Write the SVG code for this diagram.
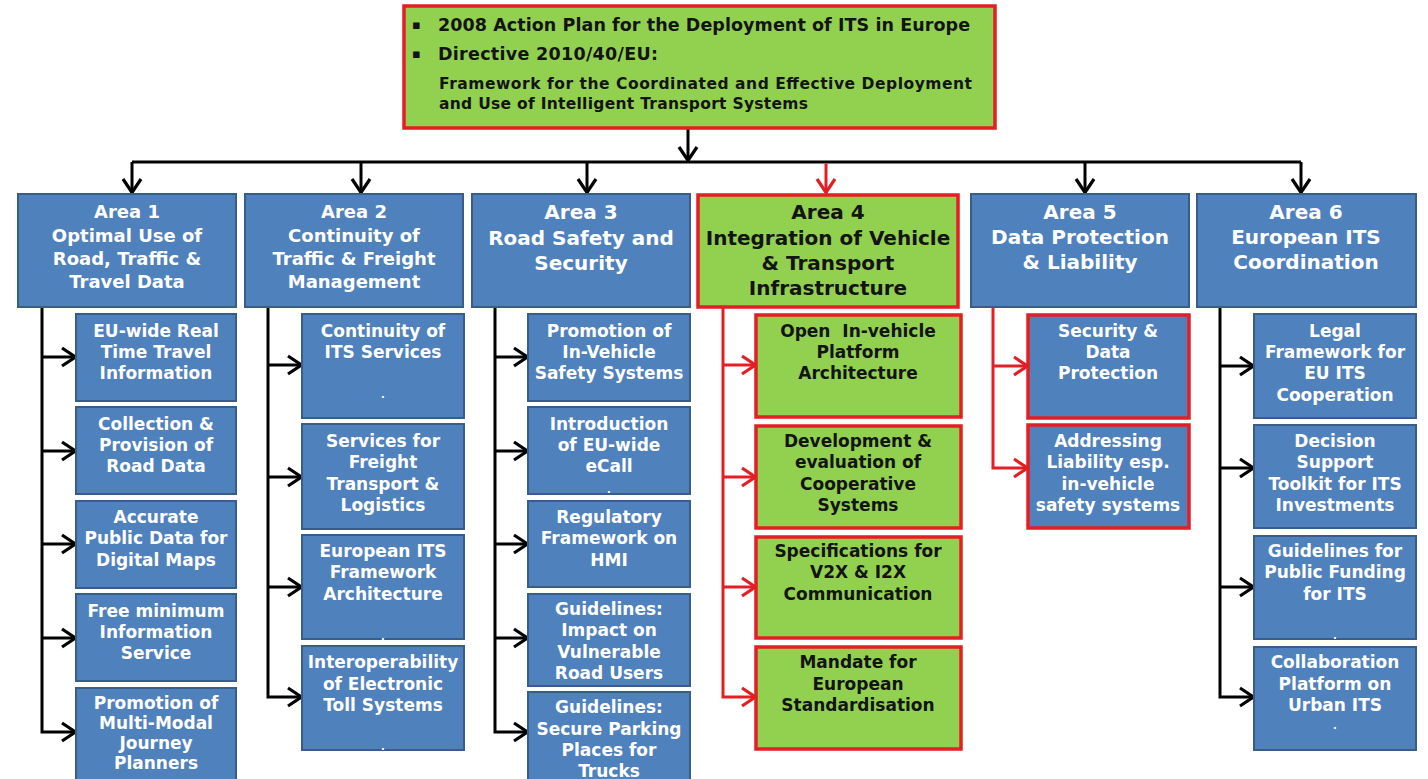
<svg xmlns="http://www.w3.org/2000/svg" width="1428" height="779" viewBox="0 0 1428 779">
<defs>
<style>
.blue{fill:#4F81BD;stroke:#385D8A;stroke-width:2}
.green{fill:#92D050;stroke:#E31E24;stroke-width:3.5}
.bluered{fill:#4F81BD;stroke:#E31E24;stroke-width:3.5}
text{font-family:"DejaVu Sans","Liberation Sans",sans-serif;font-weight:bold}
.c{text-anchor:middle}
.w{fill:#FFFFFF}
.k{fill:#141414}
.h18{font-size:18px}
.h20{font-size:20px}
.s{font-size:17px}
.dot{font-size:10px}
.lk{fill:none;stroke:#000;stroke-width:3}
.lr{fill:none;stroke:#E31E24;stroke-width:3}
</style>
<marker id="ak" markerUnits="userSpaceOnUse" markerWidth="18" markerHeight="22" viewBox="0 0 18 22" refX="16" refY="11" orient="auto">
<path d="M2,2 L15.5,11 L2,20" fill="none" stroke="#000" stroke-width="3.2"/>
</marker>
<marker id="ar" markerUnits="userSpaceOnUse" markerWidth="18" markerHeight="22" viewBox="0 0 18 22" refX="16" refY="11" orient="auto">
<path d="M2,2 L15.5,11 L2,20" fill="none" stroke="#E31E24" stroke-width="3.2"/>
</marker>
</defs>
<rect width="1428" height="779" fill="#FFFFFF"/>

<g id="connectors">
<line class="lk" x1="688" y1="128" x2="688" y2="161" marker-end="url(#ak)"/>
<line class="lk" x1="132" y1="162" x2="1301" y2="162"/>
<line class="lk" x1="132" y1="162" x2="132" y2="193" marker-end="url(#ak)"/>
<line class="lk" x1="361" y1="162" x2="361" y2="193" marker-end="url(#ak)"/>
<line class="lk" x1="587" y1="162" x2="587" y2="193" marker-end="url(#ak)"/>
<line class="lr" x1="826" y1="163.5" x2="826" y2="193" marker-end="url(#ar)"/>
<line class="lk" x1="1085" y1="162" x2="1085" y2="193" marker-end="url(#ak)"/>
<line class="lk" x1="1301" y1="162" x2="1301" y2="193" marker-end="url(#ak)"/>

<path class="lk" d="M42,307 V732 H76" marker-end="url(#ak)"/>
<line class="lk" x1="42" y1="357" x2="76" y2="357" marker-end="url(#ak)"/>
<line class="lk" x1="42" y1="451" x2="76" y2="451" marker-end="url(#ak)"/>
<line class="lk" x1="42" y1="544" x2="76" y2="544" marker-end="url(#ak)"/>
<line class="lk" x1="42" y1="638" x2="76" y2="638" marker-end="url(#ak)"/>

<path class="lk" d="M268,307 V697 H302" marker-end="url(#ak)"/>
<line class="lk" x1="268" y1="365" x2="302" y2="365" marker-end="url(#ak)"/>
<line class="lk" x1="268" y1="477" x2="302" y2="477" marker-end="url(#ak)"/>
<line class="lk" x1="268" y1="587" x2="302" y2="587" marker-end="url(#ak)"/>

<path class="lk" d="M495,307 V732 H528" marker-end="url(#ak)"/>
<line class="lk" x1="495" y1="357" x2="528" y2="357" marker-end="url(#ak)"/>
<line class="lk" x1="495" y1="451" x2="528" y2="451" marker-end="url(#ak)"/>
<line class="lk" x1="495" y1="544" x2="528" y2="544" marker-end="url(#ak)"/>
<line class="lk" x1="495" y1="638" x2="528" y2="638" marker-end="url(#ak)"/>

<path class="lr" d="M723,307 V697 H756" marker-end="url(#ar)"/>
<line class="lr" x1="723" y1="365" x2="756" y2="365" marker-end="url(#ar)"/>
<line class="lr" x1="723" y1="477" x2="756" y2="477" marker-end="url(#ar)"/>
<line class="lr" x1="723" y1="587" x2="756" y2="587" marker-end="url(#ar)"/>

<path class="lr" d="M993,307 V468 H1028" marker-end="url(#ar)"/>
<line class="lr" x1="993" y1="366" x2="1028" y2="366" marker-end="url(#ar)"/>

<path class="lk" d="M1220,307 V697 H1254" marker-end="url(#ak)"/>
<line class="lk" x1="1220" y1="366" x2="1254" y2="366" marker-end="url(#ak)"/>
<line class="lk" x1="1220" y1="468" x2="1254" y2="468" marker-end="url(#ak)"/>
<line class="lk" x1="1220" y1="587" x2="1254" y2="587" marker-end="url(#ak)"/>
</g>

<g id="root">
<rect class="green" x="404" y="6" width="591" height="122"/>
<text class="k" x="412" y="29" font-size="13">▪</text>
<text class="k" x="438" y="31" font-size="17.5" textLength="532">2008 Action Plan for the Deployment of ITS in Europe</text>
<text class="k" x="412" y="58" font-size="13">▪</text>
<text class="k" x="438" y="60" font-size="17.5" textLength="220">Directive 2010/40/EU:</text>
<text class="k" x="439" y="89" font-size="15.5" textLength="533">Framework for the Coordinated and Effective Deployment</text>
<text class="k" x="439" y="109" font-size="15.5" textLength="369">and Use of Intelligent Transport Systems</text>
</g>

<g id="area1">
<rect class="blue" x="18" y="194" width="218" height="113"/>
<text class="c w h18" x="127"><tspan x="127" y="218">Area 1</tspan><tspan x="127" y="242">Optimal Use of</tspan><tspan x="127" y="265">Road, Traffic &amp;</tspan><tspan x="127" y="288">Travel Data</tspan></text>
</g>
<g id="area2">
<rect class="blue" x="245" y="194" width="218" height="113"/>
<text class="c w h18" x="354"><tspan x="354" y="218">Area 2</tspan><tspan x="354" y="242">Continuity of</tspan><tspan x="354" y="265">Traffic &amp; Freight</tspan><tspan x="354" y="288">Management</tspan></text>
</g>
<g id="area3">
<rect class="blue" x="472" y="194" width="218" height="113"/>
<text class="c w h20" x="581"><tspan x="581" y="219">Area 3</tspan><tspan x="581" y="245">Road Safety and</tspan><tspan x="581" y="270">Security</tspan></text>
</g>
<g id="area4">
<rect class="green" x="698" y="195" width="260" height="112"/>
<text class="c k h20" x="828"><tspan x="828" y="219">Area 4</tspan><tspan x="828" y="245">Integration of Vehicle</tspan><tspan x="828" y="270">&amp; Transport</tspan><tspan x="828" y="295">Infrastructure</tspan></text>
</g>
<g id="area5">
<rect class="blue" x="971" y="194" width="218" height="113"/>
<text class="c w h20" x="1080"><tspan x="1080" y="219">Area 5</tspan><tspan x="1080" y="244">Data Protection</tspan><tspan x="1080" y="269">&amp; Liability</tspan></text>
</g>
<g id="area6">
<rect class="blue" x="1197" y="194" width="219" height="113"/>
<text class="c w h20" x="1306"><tspan x="1306" y="219">Area 6</tspan><tspan x="1306" y="244">European ITS</tspan><tspan x="1306" y="269">Coordination</tspan></text>
</g>

<g id="a1-1"><rect class="blue" x="76" y="314" width="160" height="87"/>
<text class="c w s"><tspan x="156" y="337">EU-wide Real</tspan><tspan x="156" y="358">Time Travel</tspan><tspan x="156" y="379">Information</tspan></text></g>
<g id="a1-2"><rect class="blue" x="76" y="407" width="160" height="87"/>
<text class="c w s"><tspan x="156" y="430">Collection &amp;</tspan><tspan x="156" y="451">Provision of</tspan><tspan x="156" y="472">Road Data</tspan></text></g>
<g id="a1-3"><rect class="blue" x="76" y="501" width="160" height="87"/>
<text class="c w s"><tspan x="156" y="523">Accurate</tspan><tspan x="156" y="544">Public Data for</tspan><tspan x="156" y="566">Digital Maps</tspan></text></g>
<g id="a1-4"><rect class="blue" x="76" y="594" width="160" height="87"/>
<text class="c w s"><tspan x="156" y="617">Free minimum</tspan><tspan x="156" y="638">Information</tspan><tspan x="156" y="659">Service</tspan></text></g>
<g id="a1-5"><rect class="blue" x="76" y="688" width="160" height="100"/>
<text class="c w s"><tspan x="156" y="709">Promotion of</tspan><tspan x="156" y="729">Multi-Modal</tspan><tspan x="156" y="749">Journey</tspan><tspan x="156" y="769">Planners</tspan></text></g>

<g id="a2-1"><rect class="blue" x="302" y="314" width="162" height="104"/>
<text class="c w s"><tspan x="383" y="337">Continuity of</tspan><tspan x="383" y="358">ITS Services</tspan></text>
<text class="c w dot" x="383" y="398">.</text></g>
<g id="a2-2"><rect class="blue" x="302" y="424" width="162" height="105"/>
<text class="c w s"><tspan x="383" y="447">Services for</tspan><tspan x="383" y="468">Freight</tspan><tspan x="383" y="490">Transport &amp;</tspan><tspan x="383" y="511">Logistics</tspan></text></g>
<g id="a2-3"><rect class="blue" x="302" y="535" width="162" height="104"/>
<text class="c w s"><tspan x="383" y="557">European ITS</tspan><tspan x="383" y="578">Framework</tspan><tspan x="383" y="600">Architecture</tspan></text>
<text class="c w dot" x="383" y="640">.</text></g>
<g id="a2-4"><rect class="blue" x="302" y="646" width="162" height="104"/>
<text class="c w s"><tspan x="383" y="668">Interoperability</tspan><tspan x="383" y="690">of Electronic</tspan><tspan x="383" y="711">Toll Systems</tspan></text>
<text class="c w dot" x="383" y="750">.</text></g>

<g id="a3-1"><rect class="blue" x="528" y="314" width="162" height="87"/>
<text class="c w s"><tspan x="609" y="337">Promotion of</tspan><tspan x="609" y="358">In-Vehicle</tspan><tspan x="609" y="379">Safety Systems</tspan></text></g>
<g id="a3-2"><rect class="blue" x="528" y="407" width="162" height="87"/>
<text class="c w s"><tspan x="609" y="430">Introduction</tspan><tspan x="609" y="451">of EU-wide</tspan><tspan x="609" y="472">eCall</tspan></text>
<text class="c w dot" x="609" y="493">.</text></g>
<g id="a3-3"><rect class="blue" x="528" y="501" width="162" height="86"/>
<text class="c w s"><tspan x="609" y="523">Regulatory</tspan><tspan x="609" y="544">Framework on</tspan><tspan x="609" y="566">HMI</tspan></text></g>
<g id="a3-4"><rect class="blue" x="528" y="594" width="162" height="92"/>
<text class="c w s"><tspan x="609" y="615">Guidelines:</tspan><tspan x="609" y="636">Impact on</tspan><tspan x="609" y="658">Vulnerable</tspan><tspan x="609" y="679">Road Users</tspan></text></g>
<g id="a3-5"><rect class="blue" x="528" y="692" width="162" height="96"/>
<text class="c w s"><tspan x="609" y="713">Guidelines:</tspan><tspan x="609" y="735">Secure Parking</tspan><tspan x="609" y="756">Places for</tspan><tspan x="609" y="777">Trucks</tspan></text></g>

<g id="a4-1"><rect class="green" x="756" y="315" width="205" height="102"/>
<text class="c k s"><tspan x="858" y="337" xml:space="preserve">Open  In-vehicle</tspan><tspan x="858" y="358">Platform</tspan><tspan x="858" y="379">Architecture</tspan></text></g>
<g id="a4-2"><rect class="green" x="756" y="426" width="205" height="102"/>
<text class="c k s"><tspan x="858" y="447">Development &amp;</tspan><tspan x="858" y="468">evaluation of</tspan><tspan x="858" y="490">Cooperative</tspan><tspan x="858" y="511">Systems</tspan></text></g>
<g id="a4-3"><rect class="green" x="756" y="537" width="205" height="101"/>
<text class="c k s"><tspan x="858" y="557">Specifications for</tspan><tspan x="858" y="578">V2X &amp; I2X</tspan><tspan x="858" y="600">Communication</tspan></text></g>
<g id="a4-4"><rect class="green" x="756" y="647" width="205" height="102"/>
<text class="c k s"><tspan x="858" y="668">Mandate for</tspan><tspan x="858" y="690">European</tspan><tspan x="858" y="711">Standardisation</tspan></text></g>

<g id="a5-1"><rect class="bluered" x="1028" y="315" width="161" height="103"/>
<text class="c w s"><tspan x="1108" y="337">Security &amp;</tspan><tspan x="1108" y="358">Data</tspan><tspan x="1108" y="379">Protection</tspan></text></g>
<g id="a5-2"><rect class="bluered" x="1028" y="425" width="161" height="103"/>
<text class="c w s"><tspan x="1108" y="447">Addressing</tspan><tspan x="1108" y="468">Liability esp.</tspan><tspan x="1108" y="490">in-vehicle</tspan><tspan x="1108" y="511">safety systems</tspan></text></g>

<g id="a6-1"><rect class="blue" x="1254" y="314" width="162" height="104"/>
<text class="c w s"><tspan x="1335" y="337">Legal</tspan><tspan x="1335" y="358">Framework for</tspan><tspan x="1335" y="379">EU ITS</tspan><tspan x="1335" y="401">Cooperation</tspan></text></g>
<g id="a6-2"><rect class="blue" x="1254" y="425" width="162" height="103"/>
<text class="c w s"><tspan x="1335" y="447">Decision</tspan><tspan x="1335" y="468">Support</tspan><tspan x="1335" y="490">Toolkit for ITS</tspan><tspan x="1335" y="511">Investments</tspan></text></g>
<g id="a6-3"><rect class="blue" x="1254" y="536" width="162" height="103"/>
<text class="c w s"><tspan x="1335" y="557">Guidelines for</tspan><tspan x="1335" y="578">Public Funding</tspan><tspan x="1335" y="600">for ITS</tspan></text>
<text class="c w dot" x="1335" y="639">.</text></g>
<g id="a6-4"><rect class="blue" x="1254" y="647" width="162" height="103"/>
<text class="c w s"><tspan x="1335" y="668">Collaboration</tspan><tspan x="1335" y="690">Platform on</tspan><tspan x="1335" y="711">Urban ITS</tspan></text>
<text class="c w dot" x="1335" y="729">.</text></g>
</svg>
